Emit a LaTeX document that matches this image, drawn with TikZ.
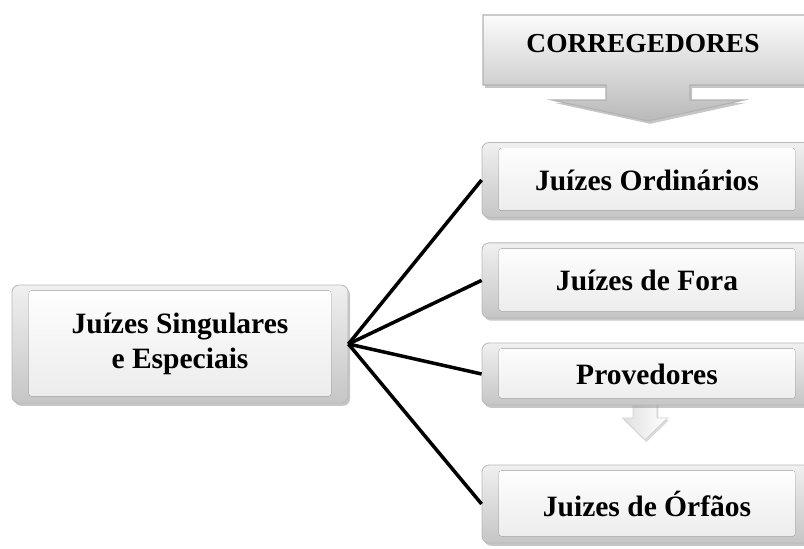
\documentclass[tikz,border=0pt]{standalone}
\usepackage{fontspec}
\setmainfont{Liberation Serif}[BoldFont={Liberation Serif Bold}]
\usetikzlibrary{shadows}
\tikzset{
        bevelbox/.style={rounded corners=5pt, draw=gray!55, line width=0.6pt,
                top color=gray!12, bottom color=gray!45,
                drop shadow={opacity=0.45, shadow xshift=1.5pt, shadow yshift=-2pt},
                path picture={\fill[top color=white, bottom color=gray!16, rounded corners=2pt]
                        ([shift={(0.42cm,-0.14cm)}]path picture bounding box.north west) rectangle
                        ([shift={(-0.42cm,0.17cm)}]path picture bounding box.south east);},
                font=\bfseries\fontsize{21}{24}\selectfont, align=center, inner sep=0pt},
        calloutbox/.style={draw=gray!60, line width=0.8pt, top color=gray!3, bottom color=gray!55,
                drop shadow={opacity=0.45, shadow xshift=1.5pt, shadow yshift=-2pt}},
        downarrow/.style={draw=gray!35, line width=0.5pt, left color=gray!25, right color=white,
                drop shadow={opacity=0.3, shadow xshift=1pt, shadow yshift=-1.5pt}},
        link/.style={line width=2.5pt, black}
}
\begin{document}
\begin{tikzpicture}
        \useasboundingbox (0,0) rectangle (20.1,13.7);
        \clip (0,0) rectangle (20.1,13.7);

        \draw[calloutbox] (12.075,13.325) -- (20.6,13.325) -- (20.6,11.575) -- (17.25,11.575) -- (17.25,11.2)
                -- (18.6,11.2) -- (16.2,10.675) -- (13.8,11.2) -- (15.15,11.2) -- (15.15,11.575)
                -- (12.075,11.575) -- cycle;
        \node (C) at (16.075,12.62) [font=\bfseries\fontsize{19.5}{22}\selectfont] {CORREGEDORES};

        \draw[downarrow] (15.825,3.9) -- (16.425,3.9) -- (16.425,3.25) -- (16.685,3.25) -- (16.125,2.7)
                -- (15.565,3.25) -- (15.825,3.25) -- cycle;

        \node (L) at (4.5,5.1) [bevelbox, minimum width=8.4cm, minimum height=2.95cm,
                font=\bfseries\fontsize{21}{24.5}\selectfont] {Juízes Singulares\\e Especiais};
        \node (O) at (16.175,9.2) [bevelbox, minimum width=8.25cm, minimum height=1.875cm] {Juízes Ordinários};
        \node (F) at (16.175,6.69) [bevelbox, minimum width=8.25cm, minimum height=1.875cm] {Juízes de Fora};
        \node (P) at (16.175,4.35) [bevelbox, minimum width=8.25cm, minimum height=1.55cm] {Provedores};
        \node (R) at (16.175,1.1) [bevelbox, minimum width=8.25cm, minimum height=1.95cm] {Juizes de Órfãos};

        \draw[link] (L.east) -- (O.west);
        \draw[link] (L.east) -- (F.west);
        \draw[link] (L.east) -- (P.west);
        \draw[link] (L.east) -- (R.west);
\end{tikzpicture}
\end{document}
